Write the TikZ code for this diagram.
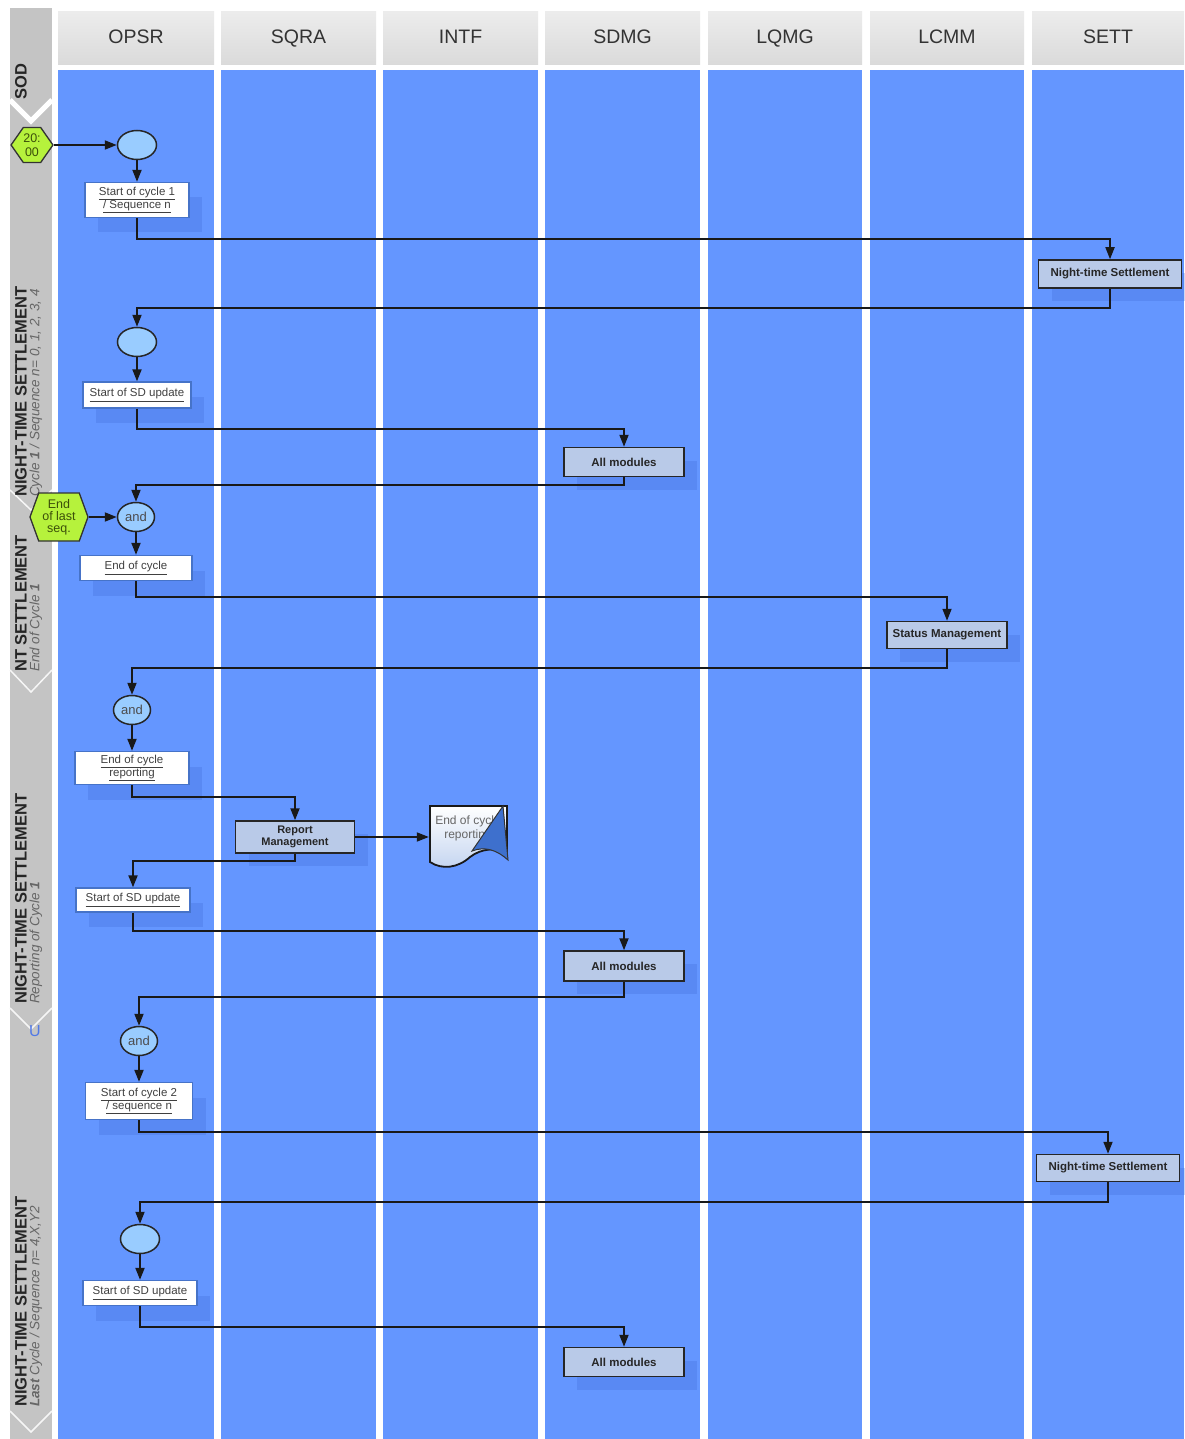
\documentclass[tikz,border=0pt]{standalone}
\usepackage{fontspec}
\setmainfont{Liberation Sans}
\usetikzlibrary{shapes.geometric,shapes.symbols,shadows,arrows.meta,calc}
\definecolor{colblue}{RGB}{100,150,255}
\definecolor{hdrtop}{RGB}{236,236,236}
\definecolor{hdrbot}{RGB}{218,218,218}
\definecolor{bandgray}{RGB}{196,196,196}
\definecolor{startborder}{RGB}{70,115,200}
\definecolor{shadowblue}{RGB}{60,100,210}
\definecolor{modfill}{RGB}{185,202,232}
\definecolor{ellfill}{RGB}{153,204,255}
\definecolor{hexgreen}{RGB}{182,242,60}
\definecolor{olivetext}{RGB}{60,80,10}
\definecolor{docblue}{RGB}{195,212,240}
\definecolor{foldblue}{RGB}{62,112,205}
\definecolor{ublue}{RGB}{80,120,230}
\newcommand{\uln}[1]{\underline{#1}}
\begin{document}
\begin{tikzpicture}[x=1pt,y=-1pt,
  hdrcell/.style={top color=hdrtop, bottom color=hdrbot, draw=none},
  hdrtext/.style={font=\fontsize{19.5}{22}\selectfont, text=black!80, anchor=base, inner sep=0pt},
  startbox/.style={draw=startborder, line width=1.3pt, fill=white, align=center, text=black!75,
    font=\fontsize{11.5}{12.5}\selectfont, inner sep=1pt,
    drop shadow={shadow xshift=13pt, shadow yshift=-15pt, fill=shadowblue, opacity=0.25}},
  modbox/.style={draw=black!85, line width=1.5pt, fill=modfill, align=center, text=black!85,
    font=\fontsize{11.5}{12}\selectfont\bfseries, inner sep=1pt,
    drop shadow={shadow xshift=13pt, shadow yshift=-13pt, fill=shadowblue, opacity=0.25}},
  flowell/.style={ellipse, draw=black!85, line width=1.5pt, fill=ellfill, minimum width=39pt,
    minimum height=29pt, inner sep=0pt, font=\fontsize{13}{14}\selectfont, text=black!70},
  hexnode/.style={signal, signal to=east and west, draw=black!80, line width=1.3pt, fill=hexgreen,
    inner sep=0pt, align=center, text=olivetext},
  conn/.style={draw=black!90, line width=1.8pt, -{Triangle[length=12pt,width=9pt]}},
  bandbold/.style={rotate=90, anchor=west, font=\fontsize{16.5}{17}\selectfont\bfseries, text=black!85, inner sep=0pt},
  banditalic/.style={rotate=90, anchor=west, font=\fontsize{13.5}{14}\selectfont\itshape, text=black!60, inner sep=0pt},
  bandline/.style={draw=white!85!bandgray, line width=1.5pt}
]
\useasboundingbox (0,0) rectangle (1184,1439);
\fill[white] (0,0) rectangle (1184,1439);

% lanes and headers
\foreach \xa/\xb/\nm in {58/214/OPSR,221/376/SQRA,383/538/INTF,545/700/SDMG,708/862/LQMG,870/1024/LCMM,1032/1184/SETT}{
  \fill[hdrcell] (\xa,12) rectangle (\xb,65);
  \node[hdrtext] (h\nm) at ({(\xa+\xb)/2},44) {\nm};
  \fill[colblue] (\xa,70) rectangle (\xb,1439);
}

% left band
\fill[bandgray] (10,8) rectangle (52,1439);
\draw[white, line width=5pt] (10,100) -- (31,121) -- (52,100);
\draw[bandline] (10,490) -- (31,510) -- (52,490);
\draw[bandline] (10,670) -- (31,692) -- (52,670);
\draw[bandline] (10,1008) -- (31,1029) -- (52,1008);
\draw[bandline] (10,1411) -- (31,1432) -- (52,1411);

\node[bandbold] (sod) at (21,100) {SOD};
\node[bandbold] (nts1lbl) at (21,497) {NIGHT-TIME SETTLEMENT};
\node[banditalic] (nts1sub) at (36,497) {Cycle \textbf{1} / Sequence n= 0, 1, 2, 3, 4};
\node[bandbold] (ntlbl) at (21,672) {NT SETTLEMENT};
\node[banditalic] (ntsub) at (36,672) {End of Cycle \textbf{1}};
\node[bandbold] (replbl) at (21,1004) {NIGHT-TIME SETTLEMENT};
\node[banditalic] (repsub) at (36,1004) {Reporting of Cycle \textbf{1}};
\node[bandbold] (lastlbl) at (21,1407) {NIGHT-TIME SETTLEMENT};
\node[banditalic] (lastsub) at (36,1407) {\textbf{Last} Cycle / Sequence n= 4,X,Y2};
\node[text=ublue, font=\fontsize{16}{16}\selectfont, inner sep=0pt] (u) at (35,1031) {U};

% document shape
\draw[line width=1.8pt, draw=black!90, top color=white, bottom color=docblue]
  (430,806) -- (507,806) -- (507,852) .. controls (495,848) and (482,848) .. (470,857)
  .. controls (458,868) and (442,870) .. (430,862) -- cycle;
\node[minimum width=78pt, minimum height=52pt, inner sep=0pt, align=center,
  font=\fontsize{12}{14}\selectfont, text=black!60] (doc) at (468,828) {End of cycle\\reporting};
\draw[fill=foldblue, draw=black!80, line width=1pt]
  (503,806) -- (472,851) .. controls (485,846) and (497,850) .. (508,860) -- cycle;

% nodes
\node[hexnode, signal pointer angle=110, minimum width=39pt, minimum height=35pt,
  font=\fontsize{12.5}{14}\selectfont] (t2000) at (32,145) {20:\\00};
\node[flowell] (e1) at (137,145) {};
\node[startbox, minimum width=104pt, minimum height=35pt] (b1) at (137,200) {\uln{Start of cycle 1}\\\uln{/ Sequence n}};
\node[modbox, minimum width=143pt, minimum height=28pt] (nts1) at (1110,274) {Night-time Settlement};
\node[flowell] (e2) at (137,342) {};
\node[startbox, minimum width=108pt, minimum height=26pt] (b2) at (137,395) {\uln{Start of SD update}};
\node[modbox, minimum width=120pt, minimum height=29pt] (am1) at (624,462) {All modules};
\node[flowell, minimum width=37pt] (and1) at (136,517) {and};
\node[hexnode, signal pointer angle=140, minimum width=58pt, minimum height=48pt,
  font=\fontsize{12.5}{12}\selectfont] (endseq) at (59,517) {End\\of last\\seq.};
\node[startbox, minimum width=112pt, minimum height=25pt] (b3) at (136,568) {\uln{End of cycle}};
\node[modbox, minimum width=120pt, minimum height=27pt] (sm) at (947,635) {Status Management};
\node[flowell, minimum width=37pt] (and2) at (132,710) {and};
\node[startbox, minimum width=114pt, minimum height=33pt] (b4) at (132,768) {\uln{End of cycle}\\\uln{reporting}};
\node[modbox, minimum width=119pt, minimum height=32pt, font=\fontsize{11}{11.5}\selectfont\bfseries] (rm) at (295,837) {Report\\Management};
\node[startbox, minimum width=114pt, minimum height=24pt] (b5) at (133,900) {\uln{Start of SD update}};
\node[modbox, minimum width=120pt, minimum height=30pt] (am2) at (624,966) {All modules};
\node[flowell, minimum width=37pt] (and3) at (139,1041) {and};
\node[startbox, minimum width=107pt, minimum height=37pt] (b6) at (139,1101) {\uln{Start of cycle 2}\\\uln{/ sequence n}};
\node[modbox, minimum width=143pt, minimum height=27pt] (nts2) at (1108,1168) {Night-time Settlement};
\node[flowell] (e3) at (140,1239) {};
\node[startbox, minimum width=114pt, minimum height=25pt] (b7) at (140,1293) {\uln{Start of SD update}};
\node[modbox, minimum width=120pt, minimum height=29pt] (am3) at (624,1362) {All modules};

% connectors
\draw[conn] (t2000.east) -- (e1.west);
\draw[conn] (e1.south) -- (b1.north);
\draw[conn] (b1.south) -- ++(0,21) -| (nts1.north);
\draw[conn] (nts1.south) -- ++(0,19) -| (e2.north);
\draw[conn] (e2.south) -- (b2.north);
\draw[conn] (b2.south) -- ++(0,20) -| (am1.north);
\draw[conn] (am1.south) -- ++(0,7.5) -| (and1.north);
\draw[conn] (endseq.east) -- (and1.west);
\draw[conn] (and1.south) -- (b3.north);
\draw[conn] (b3.south) -- ++(0,15.5) -| (sm.north);
\draw[conn] (sm.south) -- ++(0,18.5) -| (and2.north);
\draw[conn] (and2.south) -- (b4.north);
\draw[conn] (b4.south) -- ++(0,11.5) -| (rm.north);
\draw[conn] (rm.east) -- (rm.east -| doc.west);
\draw[conn] (rm.south) -- ++(0,7) -| (b5.north);
\draw[conn] (b5.south) -- ++(0,18) -| (am2.north);
\draw[conn] (am2.south) -- ++(0,15) -| (and3.north);
\draw[conn] (and3.south) -- (b6.north);
\draw[conn] (b6.south) -- ++(0,11.5) -| (nts2.north);
\draw[conn] (nts2.south) -- ++(0,19.5) -| (e3.north);
\draw[conn] (e3.south) -- (b7.north);
\draw[conn] (b7.south) -- ++(0,20.5) -| (am3.north);
\end{tikzpicture}
\end{document}
